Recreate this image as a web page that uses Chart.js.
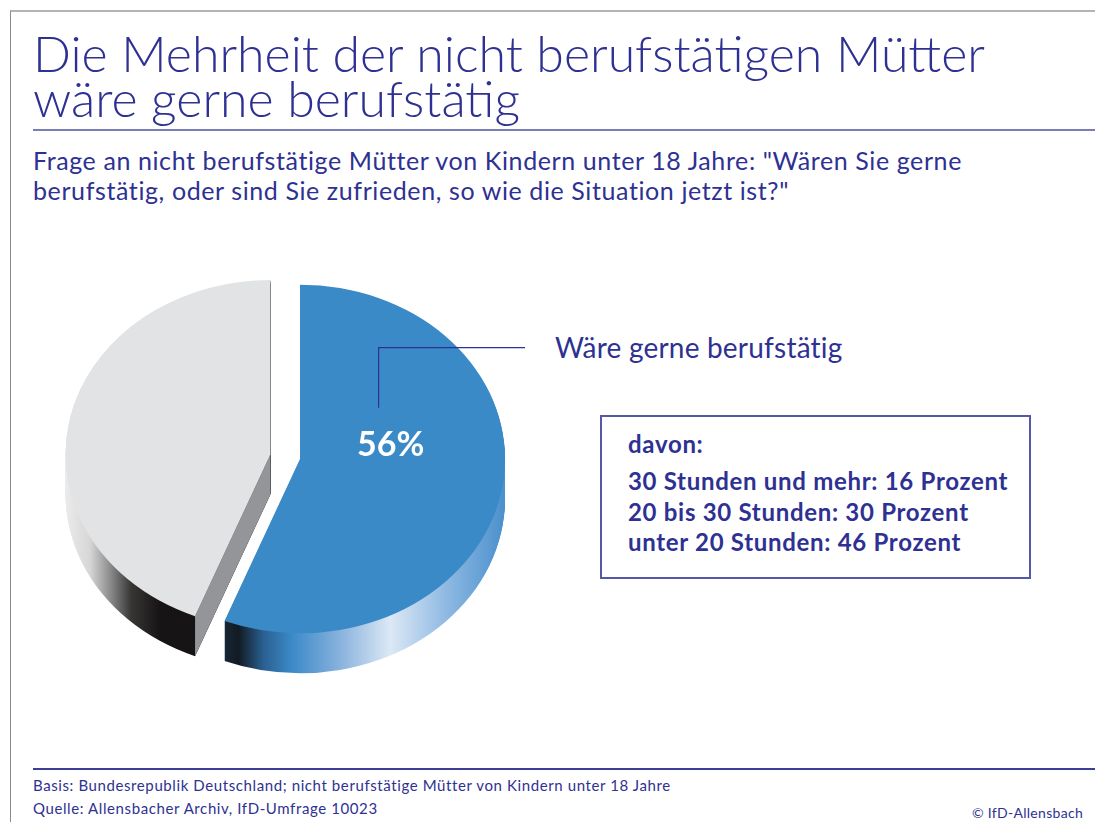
<!DOCTYPE html>
<html>
<head>
<meta charset="utf-8">
<script src="https://cdn.jsdelivr.net/npm/chart.js@4"></script>
<style>
  body { margin: 0; width: 1095px; height: 822px; background: #fff; position: relative; overflow: hidden; font-family: "Lato", sans-serif; color: #2e3192; }
  .frame { position: absolute; left: 10px; top: 10px; right: 0; bottom: 0; border-top: 2px solid #b4b4b4; border-left: 1px solid #8c8c8c; }
  h1 { position: absolute; left: 33px; top: 31px; margin: 0; font-weight: 300; font-size: 50px; line-height: 45px; white-space: nowrap; }
  .rule1 { position: absolute; left: 33px; right: 0; top: 129px; height: 2px; background: #7b7db9; }
  .sub { position: absolute; left: 33px; top: 145px; font-size: 25px; line-height: 30px; letter-spacing: 0.6px; white-space: nowrap; }
  #pieWrap { position: absolute; left: 50px; top: 239px; width: 490px; height: 440px; }
  .lead { position: absolute; left: 555px; top: 333px; font-size: 28px; line-height: 28px; letter-spacing: 0.2px; }
  .box { position: absolute; left: 600px; top: 415px; width: 427px; height: 160px; border: 2px solid #5558a8; }
  .box div { position: absolute; left: 26px; font-weight: 700; font-size: 24px; line-height: 24px; letter-spacing: 0.7px; white-space: nowrap; }
  .rule2 { position: absolute; left: 33px; right: 0; top: 768px; height: 2px; background: #3d3f96; }
  .foot { position: absolute; left: 33px; font-size: 15px; line-height: 15px; letter-spacing: 0.6px; }
  .copy { position: absolute; right: 12px; top: 806px; font-size: 14px; line-height: 14px; letter-spacing: 0.3px; }
</style>
</head>
<body>
<div class="frame"></div>
<h1>Die Mehrheit der nicht berufstätigen Mütter<br>wäre gerne berufstätig</h1>
<div class="rule1"></div>
<div class="sub">Frage an nicht berufstätige Mütter von Kindern unter 18 Jahre: "Wären Sie gerne<br>berufstätig, oder sind Sie zufrieden, so wie die Situation jetzt ist?"</div>
<div id="pieWrap"><canvas id="pie" width="490" height="440"></canvas></div>
<div class="lead" id="leadText"></div>
<div class="box" id="box"></div>
<div class="rule2"></div>
<div class="foot" style="top:778px">Basis: Bundesrepublik Deutschland; nicht berufstätige Mütter von Kindern unter 18 Jahre</div>
<div class="foot" style="top:801px">Quelle: Allensbacher Archiv, IfD-Umfrage 10023</div>
<div class="copy">© IfD-Allensbach</div>
<script>
// daten
const labels = ["Wäre gerne berufstätig", "Zufrieden, so wie es ist"];
const values = [56, 44];
const colors = ["#3b8ac8", "#e2e3e5"];
const davonTitle = "davon:";
const davonLabels = ["30 Stunden und mehr", "20 bis 30 Stunden", "unter 20 Stunden"];
const davonValues = [16, 30, 46];

document.getElementById("leadText").textContent = labels[0];
let boxHtml = `<div style="top:15px">${davonTitle}</div>`;
davonLabels.forEach((l, i) => {
  boxHtml += `<div style="top:${52 + i * 30.5}px">${l}: ${davonValues[i]} Prozent</div>`;
});
document.getElementById("box").innerHTML = boxHtml;

const tilt = 0.85;     // vertikale Stauchung
const depth = 40;      // Hoehe der Torte
const explode = [0, 30];

// seitenflaechen-farbverlauf je stueck
function sideGradient(ctx, i, ox, r) {
  const g = ctx.createLinearGradient(ox - r, 0, ox + r, 0);
  if (i === 0) {
    g.addColorStop(0.0, "#3b8ac8");
    g.addColorStop(0.35, "#121b24");
    g.addColorStop(0.41, "#2a5f90");
    g.addColorStop(0.48, "#3b8ac8");
    g.addColorStop(0.6, "#8ab3dd");
    g.addColorStop(0.72, "#dce8f5");
    g.addColorStop(0.86, "#8db8e2");
    g.addColorStop(1.0, "#4a90cc");
  } else {
    g.addColorStop(0.0, "#ebebeb");
    g.addColorStop(0.06, "#d6d6d6");
    g.addColorStop(0.11, "#8a8a8a");
    g.addColorStop(0.16, "#383535");
    g.addColorStop(0.23, "#161414");
    g.addColorStop(1.0, "#111");
  }
  return g;
}

const pie3d = {
  id: "pie3d",
  beforeDatasetsDraw(chart) {
    const ctx = chart.ctx;
    const arcs = chart.getDatasetMeta(0).data;
    const cx = arcs[0].x, cy = arcs[0].y;
    ctx.save();
    ctx.translate(cx, cy);
    ctx.scale(1, tilt);
    ctx.translate(-cx, -cy);
    const order = [1, 0];
    // seiten zuerst
    order.forEach(i => {
      const a = arcs[i];
      const mid = (a.startAngle + a.endAngle) / 2;
      const ox = a.x + Math.cos(mid) * explode[i];
      const oy = a.y + Math.sin(mid) * explode[i];
      ctx.fillStyle = sideGradient(ctx, i, ox, a.outerRadius);
      for (let d = depth; d >= 1; d--) {
        const yy = oy + d / tilt;
        ctx.beginPath();
        ctx.moveTo(ox, yy);
        ctx.arc(ox, yy, a.outerRadius, a.startAngle, a.endAngle);
        ctx.closePath();
        ctx.fill();
      }
      if (i === 1) {
        // schnittflaeche grau
        const ex = ox + Math.cos(a.startAngle) * a.outerRadius;
        const ey = oy + Math.sin(a.startAngle) * a.outerRadius;
        ctx.fillStyle = "#949599";
        ctx.beginPath();
        ctx.moveTo(ox, oy);
        ctx.lineTo(ex, ey);
        ctx.lineTo(ex, ey + depth / tilt);
        ctx.lineTo(ox, oy + depth / tilt);
        ctx.closePath();
        ctx.fill();
      }
    });
    // deckflaechen
    order.forEach(i => {
      const a = arcs[i];
      const mid = (a.startAngle + a.endAngle) / 2;
      const ox = a.x + Math.cos(mid) * explode[i];
      const oy = a.y + Math.sin(mid) * explode[i];
      ctx.fillStyle = colors[i];
      ctx.beginPath();
      ctx.moveTo(ox, oy);
      ctx.arc(ox, oy, a.outerRadius, a.startAngle, a.endAngle);
      ctx.closePath();
      ctx.fill();
    });
    ctx.restore();

    // prozent-beschriftung und hinweislinie
    const a = arcs[0];
    const mid = (a.startAngle + a.endAngle) / 2;
    const tx = a.x + Math.cos(mid) * a.outerRadius * 0.45;
    const ty = a.y + Math.sin(mid) * a.outerRadius * 0.45 * tilt - 29;
    ctx.save();
    ctx.fillStyle = "#fff";
    ctx.font = "bold 34px Lato";
    ctx.textAlign = "center";
    ctx.textBaseline = "middle";
    ctx.fillText(values[0] + "%", tx, ty);
    ctx.strokeStyle = "#2e3192";
    ctx.lineWidth = 1.2;
    ctx.beginPath();
    ctx.moveTo(tx - 12, ty - 37);
    ctx.lineTo(tx - 12, ty - 97);
    ctx.lineTo(chart.width - 15, ty - 97);
    ctx.stroke();
    ctx.restore();
    return false;
  }
};

new Chart(document.getElementById("pie"), {
  type: "pie",
  data: {
    labels: labels,
    datasets: [{
      data: values,
      backgroundColor: colors,
      borderWidth: 0
    }]
  },
  options: {
    responsive: false,
    animation: false,
    layout: { padding: { left: 45, right: 35, top: 15, bottom: 15 } },
    plugins: { legend: { display: false }, tooltip: { enabled: false } }
  },
  plugins: [pie3d]
});
</script>
</body>
</html>
